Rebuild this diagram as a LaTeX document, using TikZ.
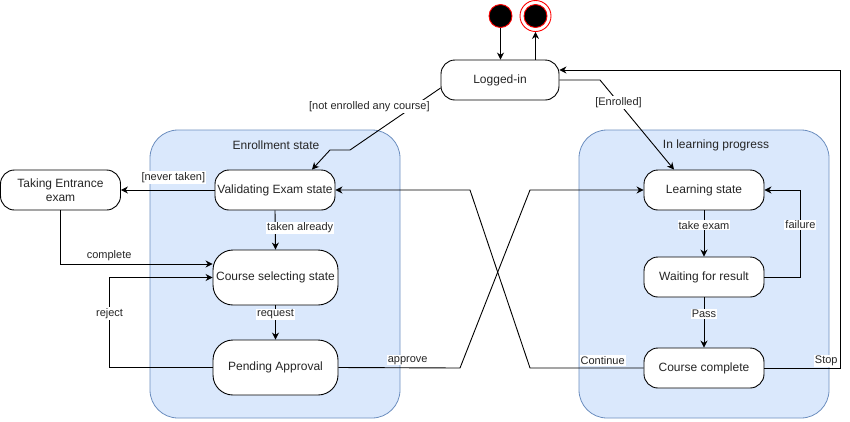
\documentclass[tikz,border=0pt]{standalone}
\usepackage{fontspec}
\setmainfont{Liberation Sans}
\usetikzlibrary{arrows.meta}

\definecolor{regionfill}{HTML}{DAE8FC}
\definecolor{regionline}{HTML}{6C8EBF}

\tikzset{
	state/.style={draw, fill=white, rounded corners=14pt, minimum width=120pt, minimum height=40pt, inner sep=2pt, align=center, text=black!85, font=\fontsize{12}{14}\selectfont},
	bigstate/.style={state, rounded corners=20pt, minimum width=125pt, minimum height=55pt},
	region/.style={draw=regionline, fill=regionfill, line width=0.8pt, rounded corners=28pt, minimum width=250pt, minimum height=288pt},
	regiontitle/.style={text=black!85, font=\fontsize{12}{14}\selectfont},
	initstate/.style={circle, draw=red, fill=black, minimum size=23pt, inner sep=0pt},
	endstate/.style={circle, draw=red, minimum size=31pt, inner sep=0pt, path picture={\filldraw[fill=black, draw=red] (path picture bounding box.center) circle (11.5pt);}},
	arr/.style={-{Stealth[length=7pt, width=7pt]}},
	lbl/.style={fill=white, inner sep=1pt, text=black!85, font=\fontsize{11}{13}\selectfont}
}

\begin{document}
\begin{tikzpicture}[x=1pt, y=-1pt, line width=0.9pt]
	\useasboundingbox (0, 0) rectangle (850, 421);

	% regions
	\node[region] (enroll) at (275, 274) {};
	\node[regiontitle] (enrolltitle) at (276, 145) {Enrollment state};
	\node[region] (learning) at (704, 274) {};
	\node[regiontitle] (learningtitle) at (716, 145) {In learning progress};

	% states
	\node[initstate] (start) at (500.5, 16) {};
	\node[endstate] (stop) at (535.5, 16) {};
	\node[state, minimum width=118pt] (login) at (500, 80) {Logged-in};
	\node[state] (taking) at (60.5, 190) {Taking Entrance\\exam};
	\node[state] (valid) at (275, 190) {Validating Exam state};
	\node[bigstate] (select) at (275.5, 277.5) {Course selecting state};
	\node[bigstate] (pending) at (275.5, 367.5) {Pending Approval};
	\node[state] (learn) at (704, 190) {Learning state};
	\node[state] (wait) at (704, 277) {Waiting for result};
	\node[state] (done) at (704, 368) {Course complete};

	% transitions
	\draw[arr] (start) -- (start |- login.north);
	\draw[arr] (stop |- login.north) -- (stop);
	\draw[arr] ([yshift=-8pt]login.west) -- node[lbl, pos=0.3, xshift=-44pt] {[not enrolled any course]} (350, 150) -- (330, 150) -- ([xshift=37pt]valid.north);
	\draw[arr] (login.east) -- (600, 80) -- node[lbl, pos=0.25] {[Enrolled]} ([xshift=-30pt]learn.north);
	\draw[arr] (valid.west) -- node[lbl, above=6pt, pos=0.44] {[never taken]} (taking.east);
	\draw[arr] (valid.south) -- node[lbl, pos=0.45, xshift=25pt] {taken already} (select.north);
	\draw[arr] (taking.south) |- node[lbl, above=2pt, pos=0.66] {complete} ([yshift=13.5pt]select.west);
	\draw[arr] (pending.west) -| node[lbl, pos=0.8] {reject} ([xshift=-103pt]select.west) -- (select.west);
	\draw[arr] (select.south) -- node[lbl, pos=0.26] {request} (pending.north);
	\draw[arr] (pending.east) -- node[lbl, above=2pt, pos=0.57] {approve} (460, 368) -- (530, 190) -- (learn.west);
	\draw[arr] (done.west) -- node[lbl, above=2pt, pos=0.36] {Continue} (530, 368) -- (470, 190) -- (valid.east);
	\draw[arr] (learn.south) -- node[lbl, pos=0.32] {take exam} (wait.north);
	\draw[arr] (wait.east) -| node[lbl, pos=0.8] {failure} ([xshift=36pt]learn.east) -- (learn.east);
	\draw[arr] (wait.south) -- node[lbl, pos=0.33] {Pass} (done.north);
	\draw[arr] (done.east) -| node[lbl, above left=1pt, pos=0.5] {Stop} (840, 70) -- ([yshift=10pt]login.east);
\end{tikzpicture}
\end{document}
